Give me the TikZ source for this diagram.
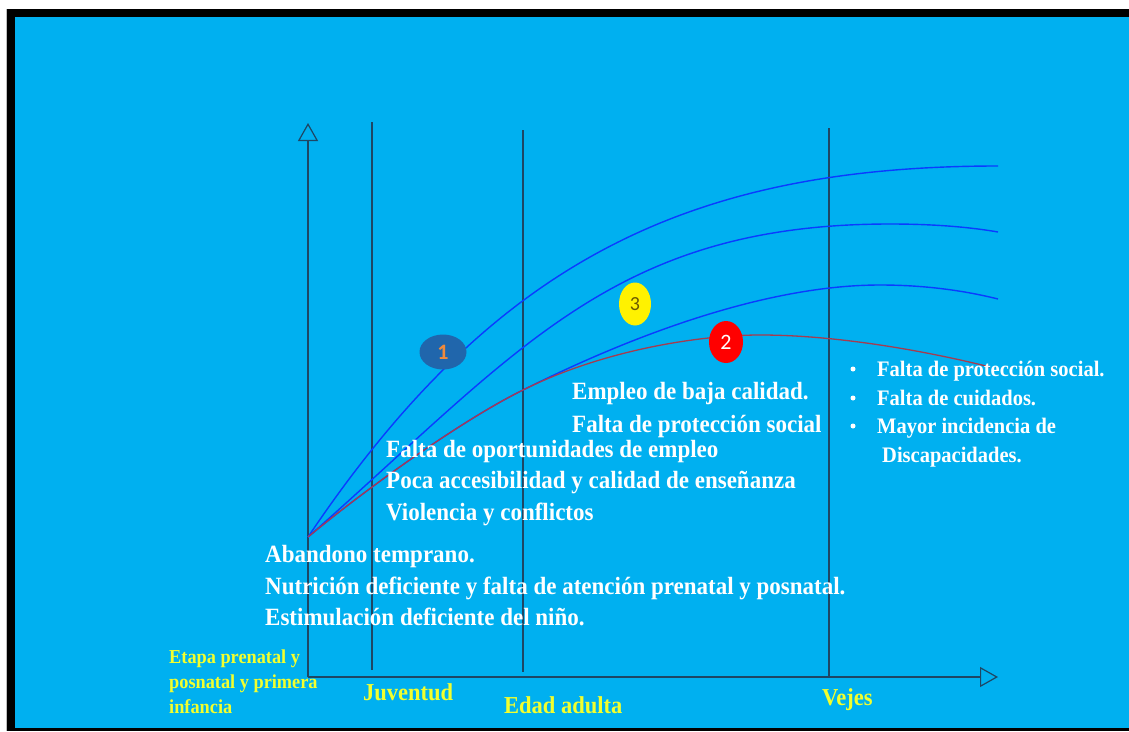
\documentclass[tikz,border=0pt]{standalone}
\usepackage{fontspec}
\setmainfont{Liberation Serif}
\newfontfamily\numfont{Carlito}
\usetikzlibrary{arrows.meta,shapes.geometric}
\definecolor{bgblue}{HTML}{00B0F0}
\definecolor{axiscol}{HTML}{1E4664}
\definecolor{curveblue}{HTML}{0A3CFF}
\definecolor{curvered}{RGB}{165,60,80}
\definecolor{ellblue}{HTML}{2066AC}
\definecolor{numorange}{HTML}{F08A3C}
\definecolor{numolive}{HTML}{6B5A00}
\definecolor{labyellow}{HTML}{F2FF2E}
\newcommand\tallt[1]{\scalebox{1}[1.08]{#1}}
\tikzset{
  axisline/.style={draw=axiscol, line width=1.2},
  axisarrow/.style={axisline, -{Triangle[open,length=18,width=20,line width=1.2]}},
  bluecurve/.style={draw=curveblue, line width=1.4},
  redcurve/.style={draw=curvered, line width=1.3},
  bigtext/.style={anchor=base west, inner sep=0, text=white, font=\bfseries\fontsize{23}{28}\selectfont},
  bultext/.style={anchor=base west, inner sep=0, text=white, font=\bfseries\fontsize{20.5}{25}\selectfont},
  agetext/.style={anchor=base west, inner sep=0, text=labyellow, font=\bfseries\fontsize{22.5}{27}\selectfont},
  smalltext/.style={anchor=base west, inner sep=0, text=labyellow, font=\bfseries\fontsize{18.3}{21}\selectfont},
  numell/.style={ellipse, inner sep=0},
  bulletdot/.style={circle, fill=white, inner sep=0, minimum size=5}
}
\begin{document}
\begin{tikzpicture}[x=1pt, y=-1pt]
\useasboundingbox (0,0) rectangle (1129,731);
\fill[white] (0,0) rectangle (1129,731);
\fill[black] (7,9) rectangle (1129,731);
\fill[bgblue] (15,17) rectangle (1129,728);
\draw[gray!50, line width=0.8] (6,9) -- (6,731);

% axes
\coordinate (O) at (308,677);
\coordinate (ytip) at (308,123);
\coordinate (xtip) at (998,677);
\draw[axisarrow] (O) -- (ytip);
\draw[axisarrow] (O) -- (xtip);

% stage separators
\coordinate (j1) at (372,122); \coordinate (j2) at (372,670);
\coordinate (a1) at (523,130); \coordinate (a2) at (523,672);
\coordinate (v1) at (829,128); \coordinate (v2) at (829,677);
\draw[axisline] (j1) -- (j2);
\draw[axisline] (a1) -- (a2);
\draw[axisline] (v1) -- (v2);

% curves
\coordinate (c0) at (308,537);
\draw[bluecurve] (c0) .. controls (489,268) and (680,166) .. (998,166);
\draw[bluecurve] (c0) .. controls (518,352) and (613,224) .. (890,224)
                 .. controls (940,224) and (975,228) .. (998,232);
\draw[bluecurve] (c0) .. controls (362,492) and (460,421) .. (523,390)
                 .. controls (639,332) and (770,285) .. (880,285)
                 .. controls (930,285) and (970,292) .. (998,299);
\draw[redcurve] (c0) .. controls (362,492) and (460,421) .. (523,390)
                .. controls (603.5,349.8) and (700,335) .. (760,335)
                .. controls (840,335) and (930,352) .. (990,367);

% numbered ellipses
\node[numell, fill=ellblue, minimum width=47, minimum height=35, text=numorange, font=\numfont\bfseries\fontsize{22}{24}\selectfont] (n1) at (443,352) {1};
\node[numell, fill=yellow, minimum width=32, minimum height=43, text=numolive, font=\numfont\fontsize{20}{22}\selectfont] (n3) at (635,304) {3};
\node[numell, fill=red, minimum width=34, minimum height=42, text=white, font=\numfont\fontsize{22}{24}\selectfont] (n2) at (726,342) {2};

% texts
\node[bigtext] (t1) at (265,562) {\tallt{Abandono temprano.}};
\node[bigtext] (t2) at (265,594) {\tallt{Nutrición deficiente y falta de atención prenatal y posnatal.}};
\node[bigtext] (t3) at (265,625) {\tallt{Estimulación deficiente del niño.}};
\node[bigtext] (m1) at (386,457) {\tallt{Falta de oportunidades de empleo}};
\node[bigtext] (m2) at (386,488) {\tallt{Poca accesibilidad y calidad de enseñanza}};
\node[bigtext] (m3) at (386,520) {\tallt{Violencia y conflictos}};
\node[bigtext] (e1) at (572,399) {\tallt{Empleo de baja calidad.}};
\node[bigtext] (e2) at (572,432) {\tallt{Falta de protección social}};

\node[bulletdot] (b1) at (853,369) {};
\node[bulletdot] (b2) at (853,398) {};
\node[bulletdot] (b3) at (853,426) {};
\node[bultext] (r1) at (877,376) {\tallt{Falta de protección social.}};
\node[bultext] (r2) at (877,405) {\tallt{Falta de cuidados.}};
\node[bultext] (r3) at (877,433) {\tallt{Mayor incidencia de}};
\node[bultext] (r4) at (882,462) {\tallt{Discapacidades.}};

\node[smalltext] (s1) at (169,663) {\tallt{Etapa prenatal y}};
\node[smalltext] (s2) at (169,688) {\tallt{posnatal y primera}};
\node[smalltext] (s3) at (169,713) {\tallt{infancia}};
\node[agetext] (g1) at (363,700) {\tallt{Juventud}};
\node[agetext] (g2) at (504,713) {\tallt{Edad adulta}};
\node[agetext] (g3) at (822,705) {\tallt{Vejes}};
\end{tikzpicture}
\end{document}
